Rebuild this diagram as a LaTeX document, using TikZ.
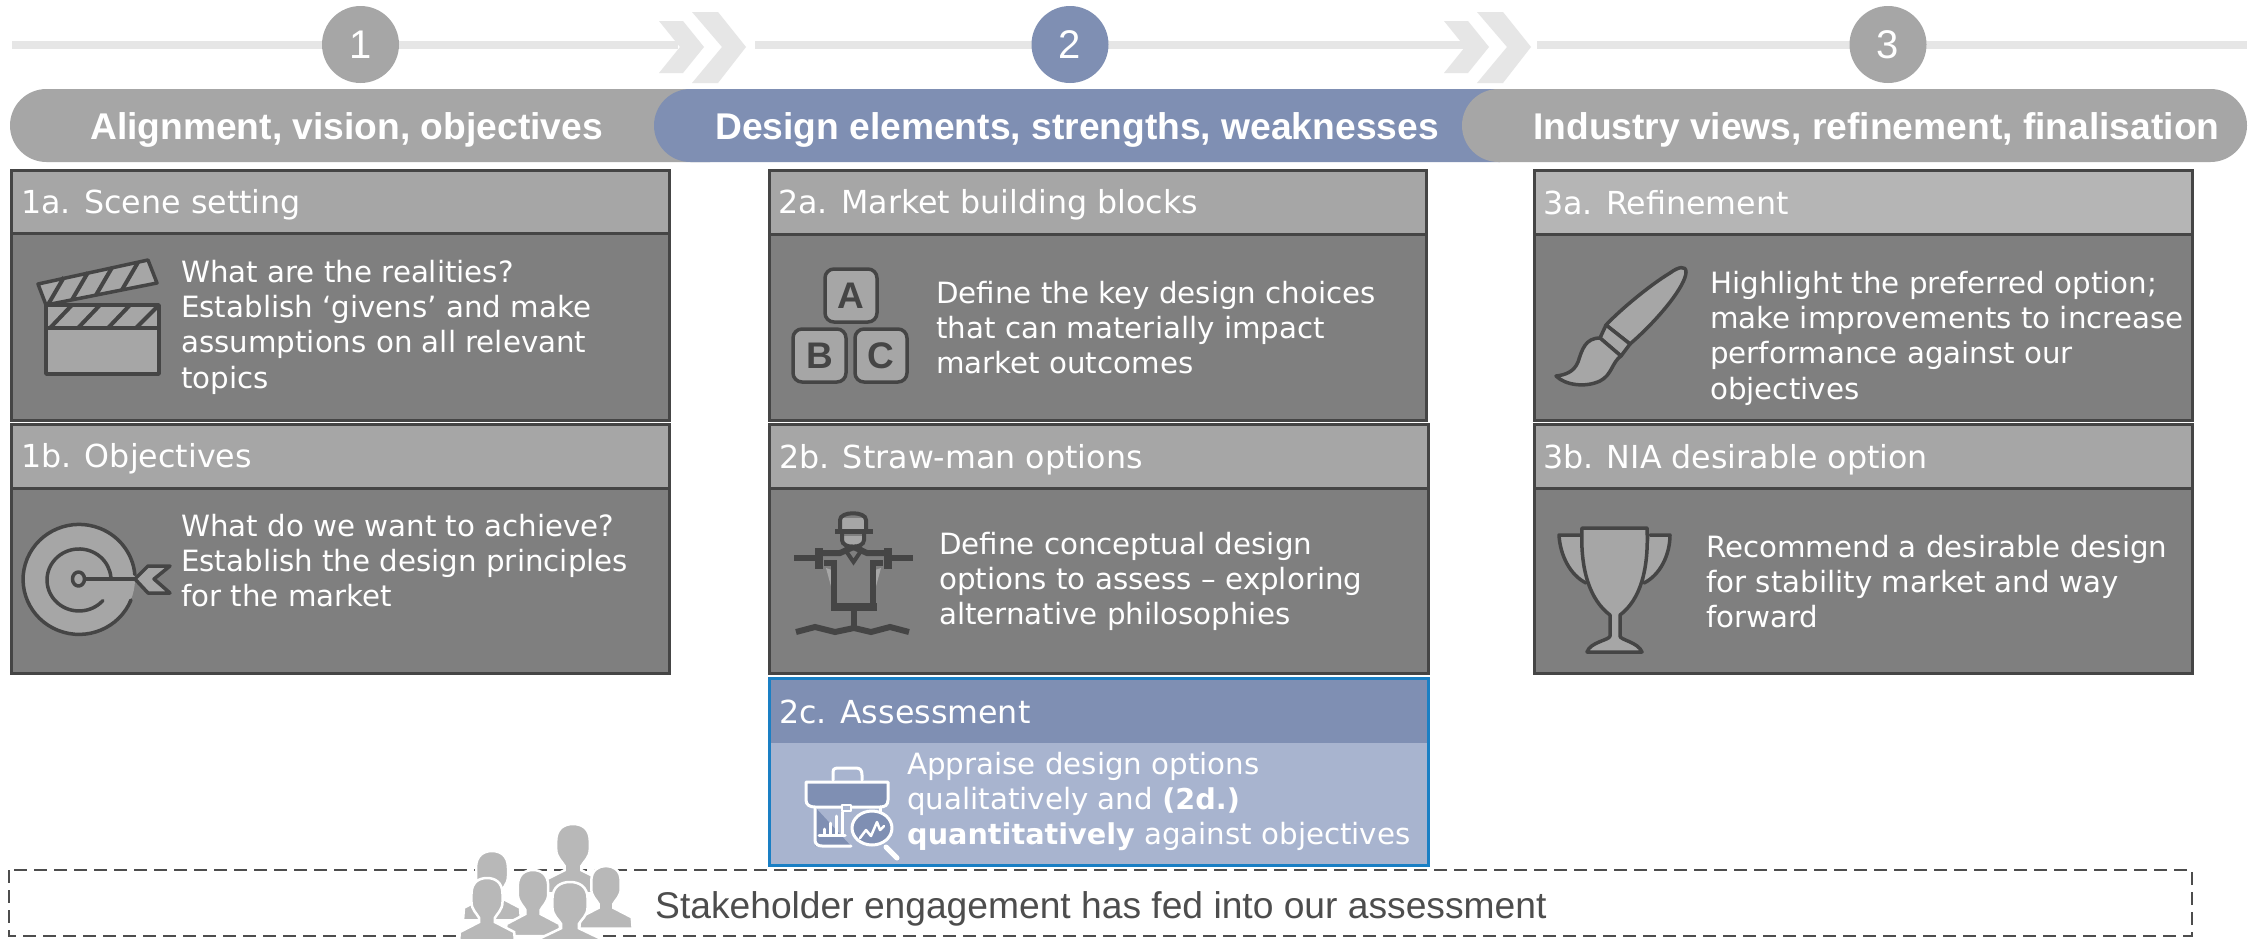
\documentclass[tikz,border=0pt]{standalone}
\usepackage{fontspec}
\setmainfont{DejaVu Sans}
\newfontfamily\arialf{Liberation Sans}
\definecolor{greyA}{HTML}{A6A6A6}
\definecolor{greyH}{HTML}{B5B5B5}
\definecolor{greyB}{HTML}{7F7F7F}
\definecolor{edgeD}{HTML}{454545}
\definecolor{blueA}{HTML}{7F8FB3}
\definecolor{blueL}{HTML}{A8B4CF}
\definecolor{blueE}{HTML}{1A7FC4}
\definecolor{lineG}{HTML}{E6E6E6}
\definecolor{peopleG}{HTML}{B8B8B8}
\definecolor{textD}{HTML}{4D4D4D}
\tikzset{
  x=1pt,y=-1pt,
  numdot/.style={circle,minimum size=77pt,inner sep=0pt,text=white,font=\arialf\fontsize{40}{40}\selectfont},
  pilltext/.style={anchor=base west,inner sep=0pt,text=white,font=\arialf\bfseries\fontsize{37.2}{37}\selectfont},
  headtext/.style={anchor=base west,inner sep=0pt,text=white,font=\fontsize{31.7}{35}\selectfont},
  bodytext/.style={anchor=north west,inner sep=0pt,text=white,align=left,font=\fontsize{29.3}{35.3}\selectfont},
  cardbody/.style={fill=greyB,draw=edgeD,line width=3pt},
  cardhead/.style={fill=greyA,draw=edgeD,line width=3pt},
  icon/.style={fill=greyA,draw=edgeD,line width=3.5pt,line join=round,line cap=round},
  iconline/.style={draw=edgeD,line width=3.5pt,line join=round,line cap=round},
  icondark/.style={draw=edgeD,line width=6pt,line join=miter},
  bagline/.style={draw=white,line width=3pt,line join=round,line cap=round},
  chev/.style={fill=lineG},
  blockletter/.style={inner sep=0pt,text=edgeD,font=\arialf\bfseries\fontsize{37}{37}\selectfont},
}
\newcommand{\fl}{\rule{0pt}{25pt}}
% card: x1 x2 ytop yhead ybottom
\newcommand{\card}[6][greyA]{%
  \path[cardbody] (#2,#5) rectangle (#3,#6);
  \path[cardhead,fill=#1] (#2,#4) rectangle (#3,#5);
}
\newcommand{\chevpair}[1]{%
  \begin{scope}[xshift=#1pt]
    \fill[chev] (659,21) -- (683,21) -- (704,47) -- (683,73) -- (659,73) -- (680,47) -- cycle;
    \fill[chev] (692,12) -- (718,12) -- (746,47) -- (718,83) -- (692,83) -- (722,47) -- cycle;
  \end{scope}
}
\newcommand{\person}[4]{% cx top xscale yscale
  \path[fill=peopleG,draw=white,line width=2.5pt,shift={(#1,#2)},xscale=#3,yscale=#4]
    (-16,16) .. controls (-16,4) and (-8,0) .. (0,0) .. controls (8,0) and (16,4) .. (16,16)
    -- (16,24) .. controls (16,32) and (10,36) .. (8,40) -- (8,44) -- (28,54) -- (29,66)
    -- (-29,66) -- (-28,54) -- (-8,44) -- (-8,40) .. controls (-10,36) and (-16,32) .. (-16,24) -- cycle;
}
\begin{document}
\begin{tikzpicture}
\useasboundingbox[fill=white] (0,0) rectangle (2255,938);
% timeline
\fill[lineG] (12,41) rectangle (678,49);
\fill[lineG] (755,41) rectangle (1465,49);
\fill[lineG] (1537,41) rectangle (2247,49);
\chevpair{0}
\chevpair{785}
\node[numdot,fill=greyA] (n1) at (360.5,44.5) {1};
\node[numdot,fill=blueA] (n2) at (1070,44.5) {2};
\node[numdot,fill=greyA] (n3) at (1888,44.5) {3};
% pills
\fill[greyA] (46.5,89) arc[start angle=270,end angle=90,radius=36.5] -- (710,162) -- (710,89) -- cycle;
\fill[blueA] (690.5,89) arc[start angle=270,end angle=90,radius=36.5] -- (1500,162) -- (1500,89) -- cycle;
\fill[greyA] (1498.5,89) arc[start angle=270,end angle=90,radius=36.5] -- (2210.5,162) arc[start angle=90,end angle=-90,radius=36.5] -- cycle;
\node[pilltext] (p1) at (90,139) {Alignment, vision, objectives};
\node[pilltext] (p2) at (715,139) {Design elements, strengths, weaknesses};
\node[pilltext] (p3) at (1533,139) {Industry views, refinement, finalisation};
% cards
\card{11}{669}{170}{233}{420}
\card{11}{669}{424}{488}{673}
\card{769}{1426}{170}{234}{420}
\card{769}{1428}{424}{488}{673}
\card[greyH]{1534}{2192}{170}{234}{420}
\card{1534}{2192}{424}{488}{673}
\path[fill=blueL,draw=blueE,line width=3pt] (769,678) rectangle (1428,865);
\fill[blueA] (770.5,679.5) rectangle (1426.5,743);
% headers
\node[headtext] (h1a) at (21,213) {1a. Scene setting};
\node[headtext] (h1b) at (21,467) {1b. Objectives};
\node[headtext] (h2a) at (778,213) {2a. Market building blocks};
\node[headtext] (h2b) at (779,468) {2b. Straw-man options};
\node[headtext] (h2c) at (779,723) {2c. Assessment};
\node[headtext] (h3a) at (1543,214) {3a. Refinement};
\node[headtext] (h3b) at (1543,468) {3b. NIA desirable option};
% bodies
\node[bodytext] (b1a) at (181,257) {\fl What are the realities?\\Establish ‘givens’ and make\\assumptions on all relevant\\topics};
\node[bodytext] (b1b) at (181,511) {\fl What do we want to achieve?\\Establish the design principles\\for the market};
\node[bodytext] (b2a) at (936,278) {\fl Define the key design choices\\that can materially impact\\market outcomes};
\node[bodytext] (b2b) at (939,529) {\fl Define conceptual design\\options to assess – exploring\\alternative philosophies};
\node[bodytext] (b2c) at (907,749) {\fl Appraise design options\\qualitatively and {\bfseries\fontsize{28.7}{35.3}\selectfont (2d.)}\\{\bfseries\fontsize{28.7}{35.3}\selectfont quantitatively} against objectives};
\node[bodytext] (b3a) at (1710,268) {\fl Highlight the preferred option;\\make improvements to increase\\performance against our\\objectives};
\node[bodytext] (b3b) at (1706,532) {\fl Recommend a desirable design\\for stability market and way\\forward};
% clapper icon
\path[icon] (46,305) rectangle (159,374);
\path[iconline] (46,328) -- (159,328);
\path[icon] (38,284) -- (148,260) -- (157,283) -- (46,305) -- cycle;
\foreach \a/\b in {64/48,88/72,112/96,138/122}{\path[draw=edgeD,line width=4pt] (\a,{280-(\a-50)*0.2}) -- (\b,{305-(\b-46)*0.2});}
\foreach \a/\b in {72/50,100/78,130/108,159/136}{\path[draw=edgeD,line width=4pt] (\a,305) -- (\b,328);}
% target icon
\fill[greyA] (79,579) ellipse[x radius=56,y radius=55];
\path[iconline] (131,600) arc[start angle=22,end angle=355,x radius=56,y radius=55];
\path[iconline] (102.8,600.7) arc[start angle=42,end angle=355,x radius=32,y radius=31];
\path[iconline] (78.5,579) ellipse[x radius=6,y radius=7];
\path[iconline] (85,579) -- (135,579);
\path[icon] (170,566) -- (148,566) -- (135,579) -- (148,593) -- (170,593) -- (154,579) -- cycle;
% ABC blocks
\path[icon,rounded corners=9pt] (825,269) rectangle (877,322);
\path[icon,rounded corners=9pt] (793,329) rectangle (846,382);
\path[icon,rounded corners=9pt] (855,329) rectangle (907,382);
\node[blockletter] (la) at (851,296) {A};
\node[blockletter] (lb) at (820,356) {B};
\node[blockletter] (lc) at (881,356) {C};
% scarecrow icon
\fill[greyA] (841,518) rectangle (865,531);
\fill[greyA] (842,536) rectangle (864,545);
\path[icondark,line width=4pt] (840,530) -- (840,520) .. controls (840,511) and (866,511) .. (866,520) -- (866,530);
\fill[edgeD] (834.5,528.5) rectangle (873,534);
\path[icondark,line width=4pt] (842,534) -- (842,540) .. controls (842,549) and (864,549) .. (864,540) -- (864,534);
\fill[edgeD] (794,555) rectangle (815,561);
\fill[edgeD] (892,555) rectangle (913,561);
\fill[edgeD] (815,548) rectangle (823,569);
\fill[edgeD] (884,548) rectangle (892,569);
\fill[greyA] (826,568) -- (832,590) -- (832,570) -- cycle;
\fill[greyA] (881,568) -- (875,590) -- (875,570) -- cycle;
\path[icondark] (823,553) -- (840,553) -- (853.5,547);
\path[icondark,line width=4pt] (844,548) -- (853.5,562) -- (863,548);
\path[icondark] (853.5,547) -- (867,553) -- (884,553);
\path[icondark] (824,563) -- (834,563) -- (834,607) -- (873,607) -- (873,563) -- (883,563);
\fill[edgeD] (831,603) rectangle (877,611);
\path[icondark] (853.5,610) -- (853.5,630);
\path[icondark] (796,632) -- (815,627) -- (835,632) -- (854,628) -- (871,632) -- (890,627) -- (909,632);
% briefcase icon
\path[bagline] (833,780) -- (833,772) .. controls (833,768) and (836,768) .. (840,768) -- (856,768) .. controls (860,768) and (862,770) .. (862,775) -- (862,780);
\path[bagline,fill=blueA] (806,782) -- (888,782) -- (888,800) .. controls (888,805) and (885,807) .. (880,807) -- (815,807) .. controls (810,807) and (806,805) .. (806,800) -- cycle;
\fill[blueA] (815,807) -- (851,846) -- (815,846) -- cycle;
\path[bagline] (815,807) -- (815,840) .. controls (815,844) and (818,846) .. (822,846) -- (851,846);
\path[bagline] (880,807) -- (880,812);
\path[bagline,line width=2.5pt,fill=blueL] (842,805) rectangle (851,811);
\path[bagline] (819,835) -- (845,835);
\foreach \xx/\yy in {824/829,830/823,836/816,842/812}{\path[bagline] (\xx,835) -- (\xx,\yy);}
\path[bagline,fill=blueA] (872,828) ellipse[x radius=20,y radius=17];
\path[bagline,line width=2.5pt] (860,838) -- (866,830) -- (871,836) -- (877,822) -- (880,830) -- (884,826);
\path[bagline,line width=5pt] (886,847) -- (897,858);
% brush icon
\path[icon] (1670,273) .. controls (1678,267) and (1686,265) .. (1686,272) .. controls (1686,285) and (1660,318) .. (1630,344) -- (1606,325) .. controls (1620,310) and (1650,285) .. (1670,273) -- cycle;
\path[icon] (1606,325) -- (1600,338) -- (1621,356) -- (1630,344) -- cycle;
\path[icon] (1600,338) .. controls (1585,338) and (1582,350) .. (1578,362) .. controls (1574,372) and (1565,375) .. (1556,376) .. controls (1565,385) and (1585,388) .. (1600,381) .. controls (1612,375) and (1612,362) .. (1621,356) -- cycle;
% trophy icon
\path[icon,draw=none] (1581,535) -- (1559,535) .. controls (1560,555) and (1570,575) .. (1586,583);
\path[iconline] (1581,535) -- (1559,535) .. controls (1560,555) and (1570,575) .. (1586,583);
\path[icon,draw=none] (1650,535) -- (1670,535) .. controls (1670,555) and (1660,575) .. (1644,583);
\path[iconline] (1650,535) -- (1670,535) .. controls (1670,555) and (1660,575) .. (1644,583);
\path[icon] (1582,528) -- (1647,528) .. controls (1649,570) and (1640,600) .. (1620,615) -- (1620,636) .. controls (1620,640) and (1638,642) .. (1642,652) -- (1587,652) .. controls (1590,642) and (1610,640) .. (1610,636) -- (1610,615) .. controls (1590,600) and (1580,570) .. (1582,528) -- cycle;
% stakeholder band
\path[draw=textD,line width=2pt,dash pattern=on 13pt off 7pt] (9,870) rectangle (2192,936);
\node[anchor=base west,inner sep=0pt,text=textD,font=\arialf\fontsize{37.2}{37}\selectfont] (stk) at (655,918) {Stakeholder engagement has fed into our assessment};
% people icon
\person{492}{851}{1}{1.05}
\person{573}{824}{1.05}{1.05}
\person{606}{866}{.92}{0.95}
\person{533}{870}{.95}{1}
\person{487}{878}{.97}{1}
\person{570}{882}{1.1}{1.05}
\end{tikzpicture}
\end{document}
